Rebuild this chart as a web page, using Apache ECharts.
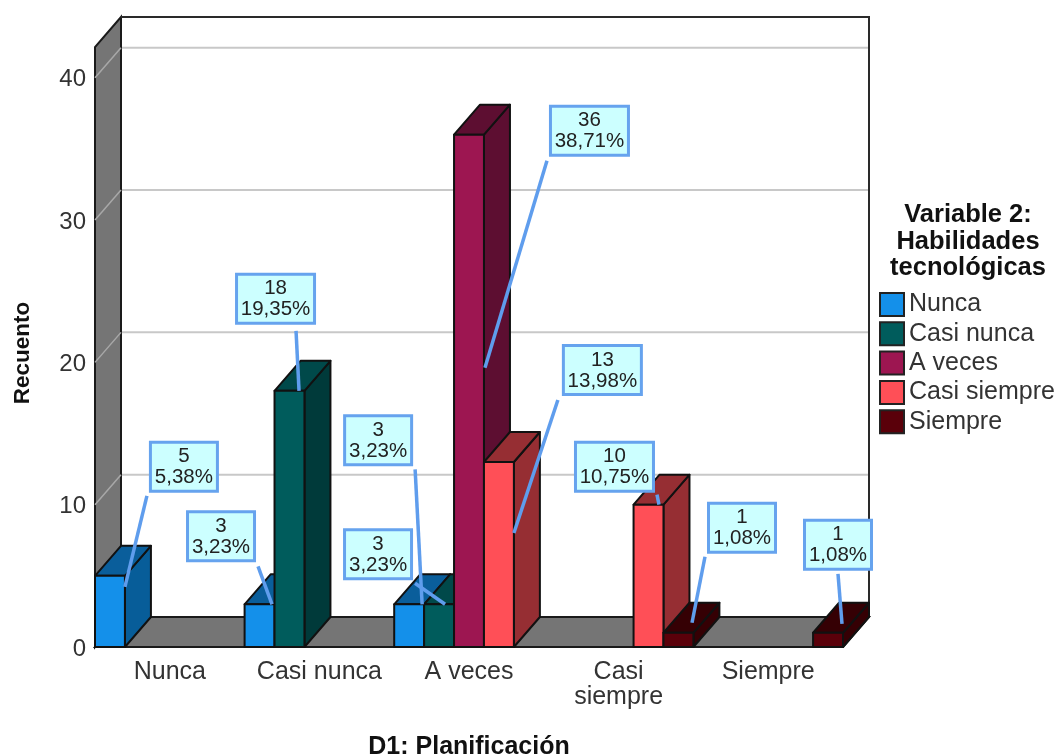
<!DOCTYPE html>
<html>
<head>
<meta charset="utf-8">
<style>
  html, body { margin: 0; padding: 0; background: #fff; }
  #chart { width: 1060px; height: 756px; }
</style>
<script src="https://cdn.jsdelivr.net/npm/echarts@6/dist/echarts.min.js"></script>
</head>
<body>
<div id="chart"></div>
<script>
const categories = ['Nunca', 'Casi nunca', 'A veces', 'Casi\nsiempre', 'Siempre'];
const seriesNames = ['Nunca', 'Casi nunca', 'A veces', 'Casi siempre', 'Siempre'];
const nuncaValues = [5, 3, 3, 0, 0];
const casiNuncaValues = [0, 18, 3, 0, 0];
const aVecesValues = [0, 0, 36, 0, 0];
const casiSiempreValues = [0, 0, 13, 10, 0];
const siempreValues = [0, 0, 0, 1, 1];
const yTicks = [0, 10, 20, 30, 40];
const total = 93;

const allValues = [nuncaValues, casiNuncaValues, aVecesValues, casiSiempreValues, siempreValues];

// front, top/side shades of the 3d bars
const faceColors = ['#1490ea', '#005c5c', '#9d1651', '#ff4f57', '#5a000a'];
const topColors = ['#0a5e9b', '#00494a', '#5d0e31', '#962e33', '#350004'];
const sideColors = ['#075d99', '#003a3a', '#5d0e31', '#962e33', '#350004'];

// callouts, offsets are px from the front top right corner of the bar
const callouts = [
  { s: 0, c: 0, box: [24, -135], from: [22, -80], tip: [0, 11] },
  { s: 0, c: 1, box: [-88.5, -94], from: [-16.5, -38], tip: [-2.5, 0] },
  { s: 1, c: 1, box: [-69.4, -118], from: [-8.4, -60], tip: [-5.4, 0] },
  { s: 0, c: 2, box: [-81, -190], from: [-9, -135], tip: [-2, 0] },
  { s: 1, c: 2, box: [-111, -76], from: [-39, -21], tip: [-9, 0] },
  { s: 2, c: 2, box: [65, -30], from: [63, 26], tip: [1, 233] },
  { s: 3, c: 2, box: [48, -118], from: [44, -62], tip: [0, 71] },
  { s: 3, c: 3, box: [-89.5, -64], from: [-6.5, -10], tip: [-4.5, 0] },
  { s: 4, c: 3, box: [13.6, -131], from: [11.6, -76], tip: [-1.4, -10] },
  { s: 4, c: 4, box: [-40, -114], from: [-5, -59], tip: [-1, -9] }
];

const depthX = 26;
const depthY = -30;
const slots = 5;
const yMax = 42.16;
const font = '"Liberation Sans", Arial, sans-serif';

const myEcharts = echarts.init(document.getElementById('chart'));

function barCorner(api, s, c, v) {
  const band = api.size([1, 0])[0];
  const slot = band / slots;
  const left = api.coord([c, 0])[0] - band / 2 + s * slot;
  return { left: left, right: left + slot, top: api.coord([c, v])[1], base: api.coord([c, 0])[1] };
}

function renderWalls(params, api) {
  const g = params.coordSys;
  const x0 = g.x, x1 = g.x + g.width, y0 = g.y, y1 = g.y + g.height;
  const children = [];
  yTicks.filter(t => t > 0).forEach(t => {
    const y = api.coord([0, t])[1];
    children.push({
      type: 'line', z2: 1,
      shape: { x1: x0 + depthX, y1: y + depthY, x2: x1 + depthX, y2: y + depthY },
      style: { stroke: '#c8c8c8', lineWidth: 2 }
    });
  });
  children.push({
    type: 'polygon', z2: 2,
    shape: { points: [[x0, y1], [x0, y0], [x0 + depthX, y0 + depthY], [x0 + depthX, y1 + depthY]] },
    style: { fill: '#757575', stroke: '#1a1a1a', lineWidth: 2 }
  });
  children.push({
    type: 'polygon', z2: 2,
    shape: { points: [[x0, y1], [x1, y1], [x1 + depthX, y1 + depthY], [x0 + depthX, y1 + depthY]] },
    style: { fill: '#757575', stroke: '#1a1a1a', lineWidth: 2 }
  });
  children.push({
    type: 'polyline', z2: 2,
    shape: { points: [[x0 + depthX, y0 + depthY], [x1 + depthX, y0 + depthY], [x1 + depthX, y1 + depthY]] },
    style: { fill: 'none', stroke: '#2a2a2a', lineWidth: 2 }
  });
  yTicks.filter(t => t > 0).forEach(t => {
    const y = api.coord([0, t])[1];
    children.push({
      type: 'line', z2: 3,
      shape: { x1: x0, y1: y, x2: x0 + depthX, y2: y + depthY },
      style: { stroke: '#a8a8a8', lineWidth: 1.5 }
    });
  });
  return { type: 'group', children: children };
}

function renderBar(s) {
  return function (params, api) {
    const c = api.value(0);
    const v = api.value(1);
    if (!v) return null;
    const b = barCorner(api, s, c, v);
    const line = { stroke: '#111', lineWidth: 2, lineJoin: 'round' };
    return {
      type: 'group',
      children: [
        {
          type: 'polygon',
          shape: { points: [[b.right, b.base], [b.right, b.top], [b.right + depthX, b.top + depthY], [b.right + depthX, b.base + depthY]] },
          style: Object.assign({ fill: sideColors[s] }, line)
        },
        {
          type: 'polygon',
          shape: { points: [[b.left, b.top], [b.right, b.top], [b.right + depthX, b.top + depthY], [b.left + depthX, b.top + depthY]] },
          style: Object.assign({ fill: topColors[s] }, line)
        },
        {
          type: 'rect',
          shape: { x: b.left, y: b.top, width: b.right - b.left, height: b.base - b.top },
          style: Object.assign({ fill: faceColors[s] }, line)
        }
      ]
    };
  };
}

function renderCallout(params, api) {
  const item = callouts[params.dataIndex];
  const v = allValues[item.s][item.c];
  const b = barCorner(api, item.s, item.c, v);
  const pct = (v / total * 100).toFixed(2).replace('.', ',') + '%';
  const w = v >= 10 ? 81 : 70;
  const h = 52;
  const bx = b.right + item.box[0];
  const by = b.top + item.box[1];
  const textStyle = { fill: '#222', font: '20.5px ' + font, textAlign: 'center', textVerticalAlign: 'middle' };
  return {
    type: 'group',
    children: [
      {
        type: 'line',
        shape: { x1: b.right + item.from[0], y1: b.top + item.from[1], x2: b.right + item.tip[0], y2: b.top + item.tip[1] },
        style: { stroke: '#5f9ded', lineWidth: 3.5 }
      },
      {
        type: 'rect',
        shape: { x: bx + 1.5, y: by + 1.5, width: w - 3, height: h - 3 },
        style: { fill: '#ccffff', stroke: '#66a3ee', lineWidth: 3 }
      },
      { type: 'text', style: Object.assign({ text: String(v), x: bx + w / 2, y: by + 16 }, textStyle) },
      { type: 'text', style: Object.assign({ text: pct, x: bx + w / 2, y: by + 37 }, textStyle) }
    ]
  };
}

const barSeries = allValues.map((values, s) => ({
  type: 'custom',
  name: seriesNames[s],
  z: 3 + s,
  itemStyle: { color: faceColors[s] },
  encode: { x: 0, y: 1 },
  renderItem: renderBar(s),
  data: values.map((v, i) => [i, v])
}));

myEcharts.setOption({
  animation: false,
  backgroundColor: '#fff',
  textStyle: { fontFamily: font },
  title: {
    text: 'Variable 2:\nHabilidades\ntecnológicas',
    left: 968,
    top: 202,
    padding: 0,
    textAlign: 'center',
    textStyle: { fontSize: 25.5, fontWeight: 'bold', color: '#111', lineHeight: 26.5, fontFamily: font }
  },
  legend: {
    orient: 'vertical',
    left: 879,
    top: 292,
    itemWidth: 24,
    itemHeight: 23,
    itemGap: 4.3,
    padding: 0,
    icon: 'rect',
    selectedMode: false,
    itemStyle: { borderColor: '#222', borderWidth: 2 },
    textStyle: { fontSize: 25, lineHeight: 23, color: '#333', fontFamily: font },
    data: seriesNames
  },
  grid: { left: 95, top: 47, width: 748, height: 600, containLabel: false, outerBoundsMode: 'none' },
  xAxis: {
    type: 'category',
    data: categories,
    name: 'D1: Planificación',
    nameLocation: 'middle',
    nameGap: 88,
    nameTextStyle: { fontSize: 25, fontWeight: 'bold', color: '#111', fontFamily: font },
    axisLine: { show: false },
    axisTick: { show: false },
    axisLabel: { fontSize: 25, color: '#333', margin: 13, lineHeight: 25, interval: 0, fontFamily: font }
  },
  yAxis: {
    type: 'value',
    min: 0,
    max: yMax,
    interval: 10,
    name: 'Recuento',
    nameLocation: 'middle',
    nameGap: 61,
    nameTextStyle: { fontSize: 22.5, fontWeight: 'bold', color: '#111', fontFamily: font, padding: [0, 0, 0, -12] },
    axisLine: { show: false },
    axisTick: { show: false },
    splitLine: { show: false },
    axisLabel: {
      fontSize: 24, color: '#333', margin: 9, showMaxLabel: false, fontFamily: font,
      verticalAlign: 'top', lineHeight: 24, padding: [-10, 0, 0, 0]
    }
  },
  series: [
    {
      type: 'custom',
      name: 'walls',
      z: 1,
      silent: true,
      encode: { x: 0, y: 1 },
      renderItem: renderWalls,
      data: [[0, 0]]
    }
  ].concat(barSeries, [
    {
      type: 'custom',
      name: 'callouts',
      z: 20,
      silent: true,
      encode: { x: 0, y: 1 },
      renderItem: renderCallout,
      data: callouts.map(item => [item.c, allValues[item.s][item.c]])
    }
  ])
});
</script>
</body>
</html>
